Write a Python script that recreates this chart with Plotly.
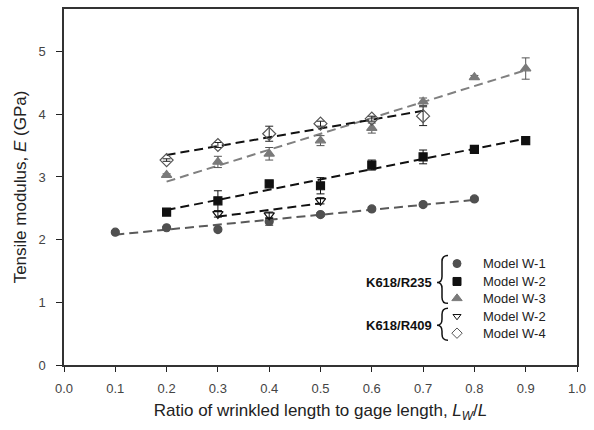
import numpy as np
import plotly.graph_objects as go

# ---- data ----
x_w1 = [0.1, 0.2, 0.3, 0.4, 0.5, 0.6, 0.7, 0.8]
e_w1 = [2.12, 2.19, 2.16, 2.29, 2.40, 2.49, 2.56, 2.65]
err_w1 = [0.02, 0.02, 0.02, 0.06, 0.03, 0.03, 0.03, 0.03]

x_w2 = [0.2, 0.3, 0.4, 0.5, 0.6, 0.7, 0.8, 0.9]
e_w2 = [2.44, 2.62, 2.89, 2.86, 3.19, 3.32, 3.44, 3.58]
err_w2 = [0.03, 0.16, 0.03, 0.13, 0.08, 0.11, 0.03, 0.03]

x_w3 = [0.2, 0.3, 0.4, 0.5, 0.6, 0.7, 0.8, 0.9]
e_w3 = [3.03, 3.24, 3.37, 3.58, 3.78, 4.20, 4.59, 4.73]
err_w3 = [0.02, 0.09, 0.10, 0.08, 0.08, 0.06, 0.03, 0.17]

x_r2 = [0.3, 0.4, 0.5]
e_r2 = [2.41, 2.39, 2.62]
err_r2 = [0.05, 0.05, 0.05]

x_w4 = [0.2, 0.3, 0.4, 0.5, 0.6, 0.7]
e_w4 = [3.27, 3.51, 3.69, 3.85, 3.93, 3.97]
err_w4 = [0.02, 0.04, 0.12, 0.04, 0.04, 0.15]

legend_labels = ["Model W-1", "Model W-2", "Model W-3", "Model W-2", "Model W-4"]
group_labels = ["K618/R235", "K618/R409"]

x_ticks = [0.0, 0.1, 0.2, 0.3, 0.4, 0.5, 0.6, 0.7, 0.8, 0.9, 1.0]
y_ticks = [0, 1, 2, 3, 4, 5]

FONT = "Liberation Sans, Arial, sans-serif"

series = [
    # x, y, err, symbol, marker color, line color, size, errcolor
    (x_w1, e_w1, err_w1, "circle", "#505050", "#5a5a5a", 8, "#333333"),
    (x_w2, e_w2, err_w2, "square", "#111111", "#111111", 8, "#111111"),
    (x_w3, e_w3, err_w3, "triangle-up", "#7a7a7a", "#808080", 9, "#555555"),
    (x_r2, e_r2, err_r2, "triangle-down-open", "#111111", "#111111", 9, "#111111"),
    (x_w4, e_w4, err_w4, "diamond-open", "#555555", "#111111", 10, "#222222"),
]

fig = go.Figure()

for xs, ys, er, sym, mc, lc, sz, ec in series:
    xa = np.array(xs)
    ya = np.array(ys)
    k, b = np.polyfit(xa, ya, 1)
    xl = np.array([xa.min(), xa.max()])
    fig.add_trace(go.Scatter(
        x=xl, y=k * xl + b, mode="lines",
        line=dict(color=lc, width=2, dash="9px,5px"),
        showlegend=False, hoverinfo="skip"))
    fig.add_trace(go.Scatter(
        x=xs, y=ys, mode="markers",
        marker=dict(symbol=sym, size=sz, color=mc,
                    line=dict(color=mc, width=1.2)),
        error_y=dict(type="data", array=er, visible=True,
                     color=ec, thickness=1, width=4),
        showlegend=False))

# ---- custom legend (pixel-like overlay axes) ----
leg_y = [263, 281, 298, 316, 333]
leg_x = 457
leg_sizes = [8, 8, 9, 7, 8]
for (xs, ys, er, sym, mc, lc, sz, ec), yy, lsz in zip(series, leg_y, leg_sizes):
    fig.add_trace(go.Scatter(
        x=[leg_x], y=[yy], xaxis="x2", yaxis="y2", mode="markers",
        marker=dict(symbol=sym, size=lsz, color=mc,
                    line=dict(color=mc, width=1.0)),
        showlegend=False, hoverinfo="skip"))

annotations = []
for yy, lab in zip(leg_y, legend_labels):
    annotations.append(dict(x=481, y=yy, xref="x2", yref="y2", text=lab,
                            showarrow=False, xanchor="left", yanchor="middle",
                            font=dict(family=FONT, size=13, color="#222222")))
for yy, lab in zip([282, 325], group_labels):
    annotations.append(dict(x=434, y=yy, xref="x2", yref="y2",
                            text="<b>" + lab + "</b>",
                            showarrow=False, xanchor="right", yanchor="middle",
                            font=dict(family=FONT, size=13, color="#111111")))


def brace(top, mid, bot, xr=448, xm=442, xt=437):
    r = 6
    return (f"M {xr},{top} Q {xm},{top} {xm},{top + r} L {xm},{mid - r} "
            f"Q {xm},{mid} {xt},{mid} Q {xm},{mid} {xm},{mid + r} "
            f"L {xm},{bot - r} Q {xm},{bot} {xr},{bot}")


shapes = [
    dict(type="path", xref="x2", yref="y2", path=brace(255, 282, 303),
         line=dict(color="#111111", width=1.5)),
    dict(type="path", xref="x2", yref="y2", path=brace(308, 325, 340),
         line=dict(color="#111111", width=1.5)),
]

fig.update_layout(
    width=594, height=430,
    margin=dict(l=64, r=17, t=7, b=65),
    paper_bgcolor="white", plot_bgcolor="white",
    font=dict(family=FONT, size=12, color="#222222"),
    showlegend=False,
    annotations=annotations,
    shapes=shapes,
    xaxis=dict(range=[0, 1.0], tickvals=x_ticks,
               ticktext=[f"{v:.1f}" for v in x_ticks],
               ticks="outside", ticklen=5, tickcolor="#222222",
               showline=True, linecolor="#333333", linewidth=1.5, mirror=True,
               showgrid=False, zeroline=False, ticklabelstandoff=6,
               tickfont=dict(family=FONT, size=13, color="#444444"),
               title=dict(text="Ratio of wrinkled length to gage length, <i>L<sub>W</sub></i>/<i>L</i>",
                          font=dict(family=FONT, size=17, color="#222222"),
                          standoff=9)),
    yaxis=dict(range=[0, 5.68], tickvals=y_ticks,
               ticks="outside", ticklen=6, tickcolor="#222222",
               showline=True, linecolor="#333333", linewidth=1.5, mirror=True,
               showgrid=False, zeroline=False, ticklabelstandoff=8,
               tickfont=dict(family=FONT, size=13, color="#444444"),
               title=dict(text="Tensile modulus, <i>E</i> (GPa)",
                          font=dict(family=FONT, size=17, color="#222222"),
                          standoff=7)),
    xaxis2=dict(range=[64, 577], overlaying="x", visible=False, anchor="y2"),
    yaxis2=dict(range=[365, 7], overlaying="y", visible=False, anchor="x2"),
)

fig.write_html("out.html")
